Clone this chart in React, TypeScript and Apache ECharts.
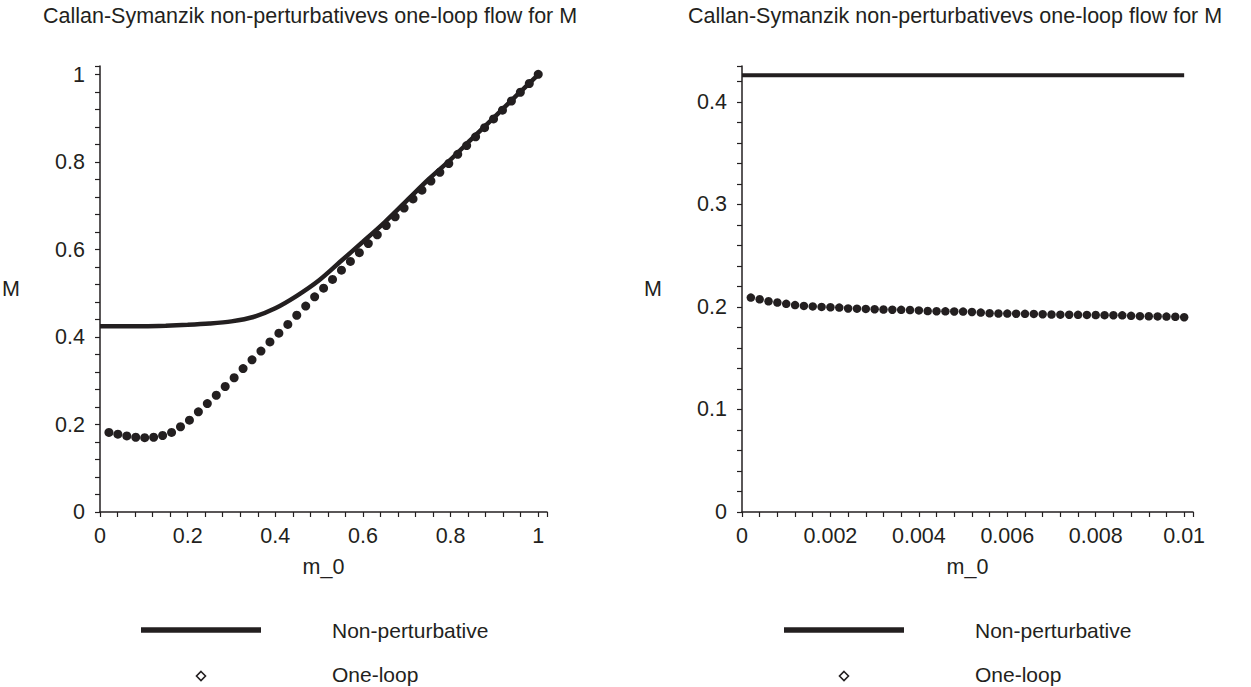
import { useEffect, useRef } from "react";
import * as echarts from "echarts";

const INK = "#231f20";
const FONT = "'Liberation Sans', Arial, Helvetica, sans-serif";

const titleText = "Callan-Symanzik non-perturbativevs one-loop flow for M";
const xAxisName = "m_0";
const yAxisName = "M";
const seriesNames = ["Non-perturbative", "One-loop"];

const leftXTicks = [0, 0.2, 0.4, 0.6, 0.8, 1];
const leftYTicks = [0, 0.2, 0.4, 0.6, 0.8, 1];
const rightXTicks = [0, 0.002, 0.004, 0.006, 0.008, 0.01];
const rightYTicks = [0, 0.1, 0.2, 0.3, 0.4];

const leftOneLoopX = [
  0.0204, 0.0408, 0.0612, 0.0816, 0.102, 0.1224, 0.1429, 0.1633, 0.1837, 0.2041,
  0.2245, 0.2449, 0.2653, 0.2857, 0.3061, 0.3265, 0.3469, 0.3673, 0.3878, 0.4082,
  0.4286, 0.449, 0.4694, 0.4898, 0.5102, 0.5306, 0.551, 0.5714, 0.5918, 0.6122,
  0.6327, 0.6531, 0.6735, 0.6939, 0.7143, 0.7347, 0.7551, 0.7755, 0.7959, 0.8163,
  0.8367, 0.8571, 0.8776, 0.898, 0.9184, 0.9388, 0.9592, 0.9796, 1.0,
];
const leftOneLoopY = [
  0.182, 0.178, 0.174, 0.171, 0.17, 0.171, 0.175, 0.182, 0.195, 0.21,
  0.229, 0.248, 0.267, 0.287, 0.307, 0.328, 0.348, 0.368, 0.389, 0.409,
  0.429, 0.45, 0.471, 0.492, 0.512, 0.532, 0.553, 0.573, 0.593, 0.614,
  0.634, 0.655, 0.675, 0.695, 0.716, 0.736, 0.757, 0.777, 0.797, 0.818,
  0.838, 0.858, 0.879, 0.899, 0.919, 0.94, 0.96, 0.98, 1.001,
];

const leftNonPertX = [0, 0.05, 0.1, 0.15, 0.2, 0.25, 0.3, 0.35, 0.4, 0.45, 0.5, 0.55, 0.6, 0.65, 0.7, 0.75, 0.8, 0.85, 0.9, 0.95, 1.0];
const leftNonPertY = [0.425, 0.425, 0.425, 0.426, 0.428, 0.431, 0.436, 0.446, 0.466, 0.495, 0.53, 0.574, 0.618, 0.663, 0.712, 0.761, 0.806, 0.855, 0.903, 0.952, 1.0];

const rightOneLoopX = [
  0.0002, 0.0004, 0.0006, 0.0008, 0.001, 0.0012, 0.0014, 0.0016, 0.0018, 0.002,
  0.0022, 0.0024, 0.0026, 0.0028, 0.003, 0.0032, 0.0034, 0.0036, 0.0038, 0.004,
  0.0042, 0.0044, 0.0046, 0.0048, 0.005, 0.0052, 0.0054, 0.0056, 0.0058, 0.006,
  0.0062, 0.0064, 0.0066, 0.0068, 0.007, 0.0072, 0.0074, 0.0076, 0.0078, 0.008,
  0.0082, 0.0084, 0.0086, 0.0088, 0.009, 0.0092, 0.0094, 0.0096, 0.0098, 0.01,
];
const rightOneLoopY = [
  0.2091, 0.2075, 0.2055, 0.2043, 0.203, 0.2018, 0.201, 0.2005, 0.2, 0.1997,
  0.1994, 0.1985, 0.1983, 0.1981, 0.1978, 0.1975, 0.1973, 0.1972, 0.197, 0.1966,
  0.196, 0.1958, 0.1957, 0.1956, 0.1955, 0.1951, 0.1945, 0.1938, 0.1936, 0.1935,
  0.1934, 0.1933, 0.1932, 0.1929, 0.1926, 0.1925, 0.1924, 0.1923, 0.1922, 0.1921,
  0.192, 0.1919, 0.1918, 0.1913, 0.191, 0.1909, 0.1908, 0.1906, 0.1904, 0.19,
];
const rightNonPertX = [0, 0.01];
const rightNonPertY = [0.426, 0.426];

const zip = (xs: number[], ys: number[]) => xs.map((x, i) => [x, ys[i]]);

const FS = 21.5;

function makeAxis(gridIndex: number, min: number, max: number, interval: number, ticks: number[], name: string, isY: boolean) {
  return {
    type: "value",
    gridIndex,
    min,
    max,
    interval,
    name,
    nameLocation: "middle",
    nameGap: isY ? 80 : 44,
    nameRotate: 0,
    nameTextStyle: { color: INK, fontSize: FS, fontFamily: FONT },
    axisLine: { show: true, onZero: false, lineStyle: { color: INK, width: 1.5 } },
    axisTick: { show: true, length: 5, lineStyle: { color: INK, width: 1.2 } },
    splitLine: { show: false },
    axisLabel: {
      color: INK,
      fontSize: FS,
      fontFamily: FONT,
      margin: isY ? 15 : 13,
      formatter: (v: number) => {
        const t = ticks.find((tk) => Math.abs(tk - v) < interval * 0.01);
        return t === undefined ? "" : String(t);
      },
    },
  };
}

function legendGraphics(dx: number) {
  const txt = { fill: INK, fontSize: 21, fontFamily: FONT, textVerticalAlign: "middle", verticalAlign: "middle" };
  return [
    { type: "line", shape: { x1: 141 + dx, y1: 630, x2: 261 + dx, y2: 630 }, style: { stroke: INK, lineWidth: 5.5 } },
    { type: "text", x: 332 + dx, y: 630, style: { ...txt, text: seriesNames[0] } },
    {
      type: "polygon",
      shape: { points: [[201 + dx, 671.5], [205.5 + dx, 676], [201 + dx, 680.5], [196.5 + dx, 676]] },
      style: { fill: "#fff", stroke: INK, lineWidth: 1.6 },
    },
    { type: "text", x: 332 + dx, y: 674, style: { ...txt, text: seriesNames[1] } },
  ];
}

export default function App() {
  const ref = useRef<HTMLDivElement>(null);
  useEffect(() => {
    if (!ref.current) return;
    const chart = echarts.init(ref.current, undefined, { renderer: "svg" });
    const titleStyle = { color: INK, fontSize: 21.5, fontWeight: "normal", fontFamily: FONT };
    chart.setOption({
      animation: false,
      backgroundColor: "#fff",
      title: [
        { text: titleText, left: 38, top: 0, textStyle: titleStyle },
        { text: titleText, left: 683, top: 0, textStyle: titleStyle },
      ],
      grid: [
        { left: 100, top: 66, width: 447, height: 446 },
        { left: 742, top: 66, width: 451, height: 446 },
      ],
      xAxis: [
        makeAxis(0, 0, 1.02, 0.04, leftXTicks, xAxisName, false),
        makeAxis(1, 0, 0.0102, 0.0004, rightXTicks, xAxisName, false),
      ],
      yAxis: [
        makeAxis(0, 0, 1.02, 0.04, leftYTicks, yAxisName, true),
        makeAxis(1, 0, 0.435, 0.02, rightYTicks, yAxisName, true),
      ],
      series: [
        {
          name: seriesNames[0], type: "line", xAxisIndex: 0, yAxisIndex: 0,
          data: zip(leftNonPertX, leftNonPertY), symbol: "none", smooth: 0.3,
          lineStyle: { color: INK, width: 4.5 },
        },
        {
          name: seriesNames[1], type: "scatter", xAxisIndex: 0, yAxisIndex: 0,
          data: zip(leftOneLoopX, leftOneLoopY), symbol: "circle", symbolSize: 9,
          itemStyle: { color: INK, opacity: 1 },
        },
        {
          name: seriesNames[0], type: "line", xAxisIndex: 1, yAxisIndex: 1,
          data: zip(rightNonPertX, rightNonPertY), symbol: "none",
          lineStyle: { color: INK, width: 4 },
        },
        {
          name: seriesNames[1], type: "scatter", xAxisIndex: 1, yAxisIndex: 1,
          data: zip(rightOneLoopX, rightOneLoopY), symbol: "circle", symbolSize: 8.5,
          itemStyle: { color: INK, opacity: 1 },
        },
      ],
      graphic: [...legendGraphics(0), ...legendGraphics(643)],
    });
    return () => chart.dispose();
  }, []);
  return <div ref={ref} style={{ position: "fixed", left: 0, top: 0, width: 1251, height: 687, background: "#fff" }} />;
}
